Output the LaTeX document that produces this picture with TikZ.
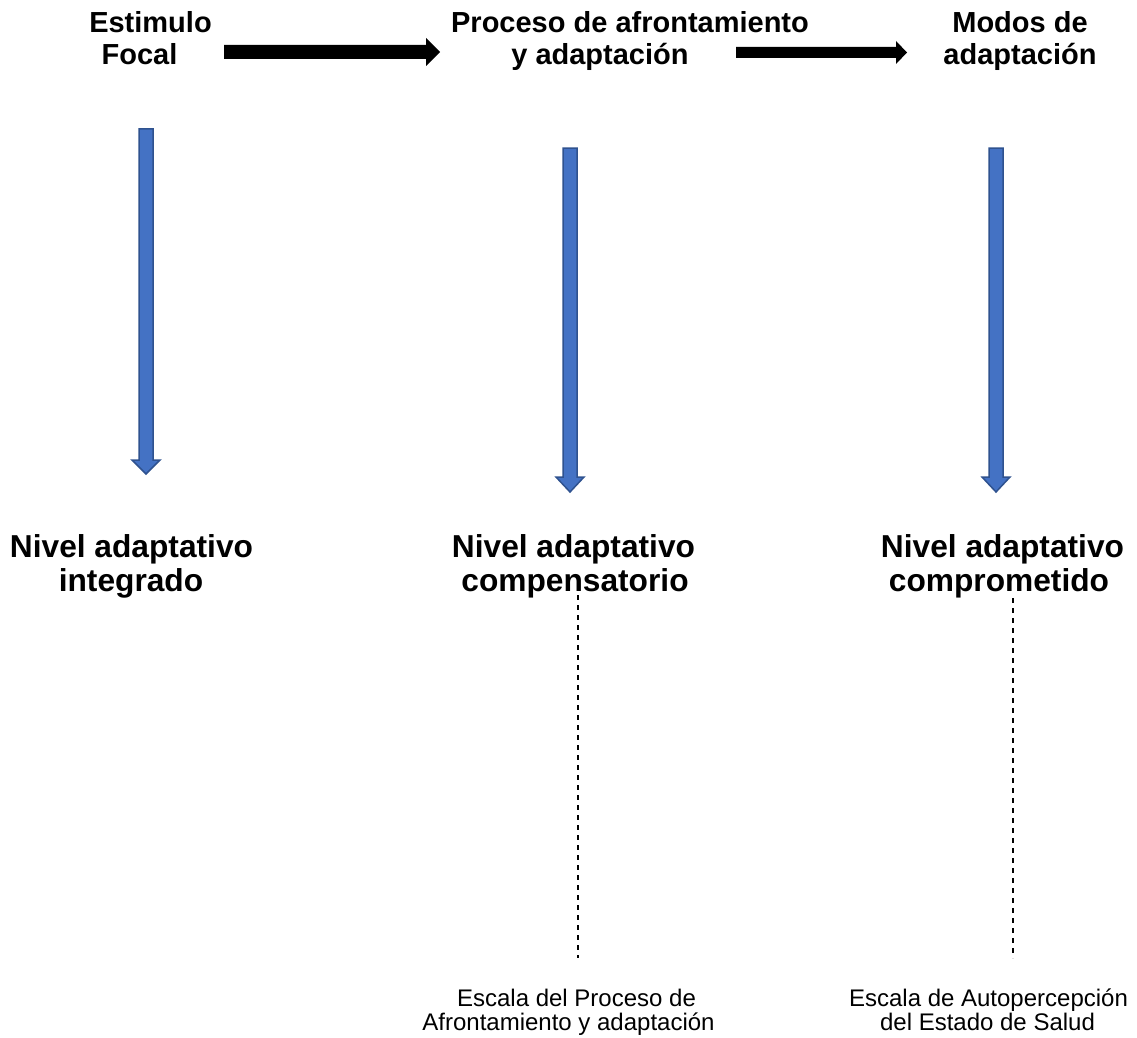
\documentclass[tikz,border=0pt]{standalone}
\usepackage{fontspec}
\setmainfont{Liberation Sans}
\definecolor{blufill}{HTML}{4472C4}
\definecolor{bluline}{HTML}{2F528F}
\newcommand{\mydownarrow}[4]{% x, top, head start, tip
  \filldraw[bluearrow] (#1-7,#2) -- (#1+7,#2) -- (#1+7,#3) -- (#1+14,#3) -- (#1,#4) -- (#1-14,#3) -- (#1-7,#3) -- cycle;}
\newcommand{\myrightarrow}[6]{% x start, head start, tip, y center, shaft half, head half
  \fill[black] (#1,#4-#5) -- (#2,#4-#5) -- (#2,#4-#6) -- (#3,#4) -- (#2,#4+#6) -- (#2,#4+#5) -- (#1,#4+#5) -- cycle;}
\begin{document}
\begin{tikzpicture}[x=1pt,y=-1pt,
  toptext/.style={anchor=base,inner sep=0pt,font=\fontsize{29}{33}\selectfont\bfseries},
  lvltext/.style={anchor=base,inner sep=0pt,font=\fontsize{31.7}{34}\selectfont\bfseries},
  smalltext/.style={anchor=base,inner sep=0pt,font=\fontsize{24}{24}\selectfont},
  bluearrow/.style={fill=blufill,draw=bluline,line width=1.5pt},
  dashline/.style={draw=black,line width=1.2pt,dash pattern=on 5pt off 5pt}]
\useasboundingbox (0,0) rectangle (1137,1038);
\fill[white] (0,0) rectangle (1137,1038);
% top labels
\node[toptext] (est1) at (150.5,33) {Estimulo};
\node[toptext] (est2) at (139.5,65) {Focal};
\node[toptext] (pro1) at (630,33) {Proceso de afrontamiento};
\node[toptext] (pro2) at (600,65) {y adaptación};
\node[toptext] (mod1) at (1020,33) {Modos de};
\node[toptext] (mod2) at (1020,65) {adaptación};
% level labels
\node[lvltext] (int1) at (131.5,557) {Nivel adaptativo};
\node[lvltext] (int2) at (131,591) {integrado};
\node[lvltext] (com1) at (573.5,557) {Nivel adaptativo};
\node[lvltext] (com2) at (575,591) {compensatorio};
\node[lvltext] (cpr1) at (1002.5,557) {Nivel adaptativo};
\node[lvltext] (cpr2) at (999,591) {comprometido};
% scale labels
\node[smalltext] (esc1) at (576.5,1006) {Escala del Proceso de};
\node[smalltext] (esc2) at (568.5,1030) {Afrontamiento y adaptación};
\node[smalltext] (aut1) at (988.5,1006) {Escala de Autopercepción};
\node[smalltext] (aut2) at (987.5,1030) {del Estado de Salud};
% black arrows
\myrightarrow{224}{426}{440}{52}{7}{14}
\myrightarrow{736}{896}{907}{52.5}{5.5}{11.5}
% blue arrows
\mydownarrow{146}{129}{460}{474}
\mydownarrow{570}{148}{477}{492}
\mydownarrow{996}{148}{477}{492}
% dashed lines
\coordinate (d1a) at (578,595);
\coordinate (d1b) at (578,958);
\coordinate (d2a) at (1013,598);
\coordinate (d2b) at (1013,958);
\draw[dashline] (d1a) -- (d1b);
\draw[dashline] (d2a) -- (d2b);
\end{tikzpicture}
\end{document}
